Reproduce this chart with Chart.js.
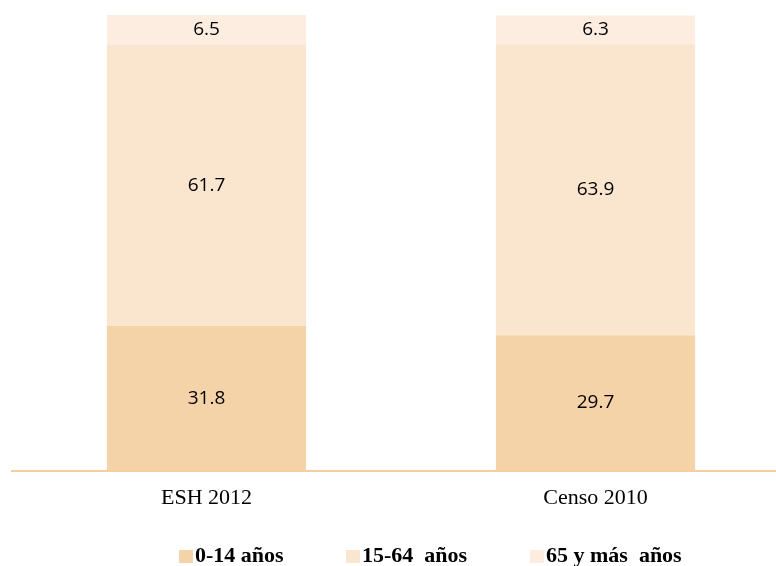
<!DOCTYPE html>
<html>
<head>
<meta charset="utf-8">
<script src="https://cdn.jsdelivr.net/npm/chart.js@4"></script>
<style>
  html, body { margin: 0; padding: 0; background: #fff; overflow: hidden; }
  #wrap { position: relative; width: 790px; height: 566px; }
  #legend { position: absolute; left: 0; top: 543px; width: 776px; height: 24px;
            font: bold 22px "Liberation Serif", serif; color: #000; }
  #legend .item { position: absolute; top: 0; white-space: pre; line-height: 24px; }
  #legend .box { display: inline-block; width: 14px; height: 13px; margin-right: 2px; vertical-align: -1px; }
</style>
</head>
<body>
<div id="wrap">
  <canvas id="chart" width="790" height="566"></canvas>
  <div id="legend"></div>
</div>
<script>
const categories = ['ESH 2012', 'Censo 2010']
const groups = ['0-14 años', '15-64  años', '65 y más  años']
const young = [31.8, 29.7]
const working = [61.7, 63.9]
const older = [6.5, 6.3]

const colors = ['#f5d3a8', '#fae5ce', '#fcede0']
const legend_left = [179, 346, 530]

// values written in the middle of each segment
const value_labels = {
    id: 'value_labels',
    afterDatasetsDraw(chart){
        const ctx = chart.ctx
        ctx.save()
        ctx.font = '19px "Open Sans", sans-serif'
        ctx.fillStyle = '#000'
        ctx.textAlign = 'center'
        ctx.textBaseline = 'middle'
        chart.data.datasets.forEach((ds, i) => {
            chart.getDatasetMeta(i).data.forEach((bar, j) => {
                ctx.fillText(ds.data[j].toFixed(1), bar.x, (bar.y + bar.base) / 2)
            })
        })
        ctx.restore()
    }
}

const series = [young, working, older]
const chart = new Chart(document.getElementById('chart'), {
    type: 'bar',
    data: {
        labels: categories,
        datasets: series.map((values, i) => ({
            label: groups[i],
            data: values,
            backgroundColor: colors[i],
            borderWidth: 0,
            barPercentage: 0.512,
            categoryPercentage: 1
        }))
    },
    options: {
        responsive: false,
        animation: false,
        layout: { padding: { left: 12, right: 0, top: 15, bottom: 41 } },
        plugins: {
            legend: { display: false },
            tooltip: { enabled: false }
        },
        scales: {
            x: {
                stacked: true,
                grid: { display: true, color: 'rgba(0,0,0,0)', drawTicks: false },
                border: { display: true, color: '#f3cfa0', width: 2 },
                ticks: {
                    padding: 14,
                    color: '#000',
                    font: { family: '"Liberation Serif", serif', size: 22 }
                }
            },
            y: {
                stacked: true,
                display: false,
                min: 0,
                max: 100
            }
        }
    },
    plugins: [value_labels]
})

const legend = document.getElementById('legend')
legend.innerHTML = groups.map((g, i) =>
    `<span class="item" style="left:${legend_left[i]}px"><span class="box" style="background:${colors[i]}"></span>${g}</span>`
).join('')
</script>
</body>
</html>
